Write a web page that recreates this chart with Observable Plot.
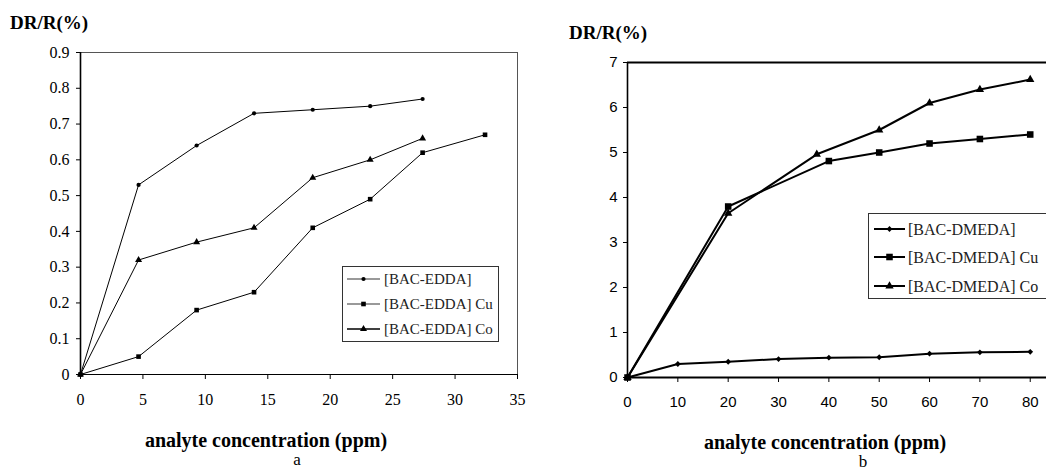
<!DOCTYPE html>
<html><head><meta charset="utf-8">
<script src="https://cdn.jsdelivr.net/npm/d3@7"></script>
<script src="https://cdn.jsdelivr.net/npm/@observablehq/plot@0.6"></script>
<style>
body{margin:0;background:#fff;}
#wrap{position:relative;width:1046px;height:470px;overflow:hidden;background:#fff;}
.abs{position:absolute;white-space:nowrap;line-height:1;color:#000;}
.serif{font-family:"Liberation Serif","Times New Roman",serif;}
.bold{font-weight:bold;}
</style></head><body><div id="wrap"></div>
<script>
// ---- Panel a data ----
const eddaX   = [0, 4.65, 9.3, 13.9, 18.6, 23.2, 27.4];
const edda    = [0, 0.53, 0.64, 0.73, 0.74, 0.75, 0.77];
const eddaCuX = [0, 4.65, 9.3, 13.9, 18.6, 23.2, 27.4, 32.4];
const eddaCu  = [0, 0.05, 0.18, 0.23, 0.41, 0.49, 0.62, 0.67];
const eddaCoX = [0, 4.65, 9.3, 13.9, 18.6, 23.2, 27.4];
const eddaCo  = [0, 0.32, 0.37, 0.41, 0.55, 0.60, 0.66];
const seriesA = ["[BAC-EDDA]", "[BAC-EDDA] Cu", "[BAC-EDDA] Co"];
const ticksAX = [0, 5, 10, 15, 20, 25, 30, 35];
const ticksAY = [0, 0.1, 0.2, 0.3, 0.4, 0.5, 0.6, 0.7, 0.8, 0.9];

// ---- Panel b data ----
const dmedaX   = [0, 10, 20, 30, 40, 50, 60, 70, 80];
const dmeda    = [0, 0.30, 0.35, 0.41, 0.44, 0.45, 0.53, 0.56, 0.57];
const dmedaCuX = [0, 20, 40, 50, 60, 70, 80];
const dmedaCu  = [0, 3.80, 4.81, 5.00, 5.20, 5.30, 5.40];
const dmedaCoX = [0, 20, 37.6, 50, 60, 70, 80];
const dmedaCo  = [0, 3.65, 4.96, 5.50, 6.10, 6.40, 6.62];
const seriesB = ["[BAC-DMEDA]", "[BAC-DMEDA] Cu", "[BAC-DMEDA] Co"];
const ticksBX = [0, 10, 20, 30, 40, 50, 60, 70, 80];
const ticksBY = [0, 1, 2, 3, 4, 5, 6, 7];

const SERIF = '"Liberation Serif","Times New Roman",serif';
const SANS = '"Liberation Sans",Arial,sans-serif';
const zip = (xs, ys) => xs.map((x, i) => ({x, y: ys[i]}));
const wrap = document.getElementById("wrap");

function place(el, left, top, family, size) {
  el.setAttribute("font-family", family);
  el.setAttribute("font-size", size);
  el.style.fontFamily = family;
  el.style.fontSize = size + "px";
  el.style.position = "absolute";
  el.style.left = left + "px";
  el.style.top = top + "px";
  el.style.background = "transparent";
  wrap.appendChild(el);
}
function text(str, cls, css) {
  const d = document.createElement("div");
  d.className = "abs " + cls;
  d.textContent = str;
  Object.assign(d.style, css);
  wrap.appendChild(d);
  return d;
}

// ---------- Panel a ----------
const aData = [zip(eddaX, edda), zip(eddaCuX, eddaCu), zip(eddaCoX, eddaCo)];
const aSym = ["circle", "square", "triangle"];
const aR = [2.1, 2.6, 2.6];
const plotA = Plot.plot({
  width: 530, height: 420,
  marginLeft: 80, marginRight: 13, marginTop: 52, marginBottom: 46,
  x: {domain: [0, 35]},
  y: {domain: [0, 0.9]},
  marks: [
    Plot.frame({stroke: "#555", strokeWidth: 1}),
    Plot.axisX({ticks: ticksAX, tickSize: 5, tickPadding: 14, label: null, fontSize: 16, fontFamily: SERIF, fill: "#000", stroke: "#000", tickFormat: d => String(d)}),
    Plot.axisY({ticks: ticksAY, tickSize: 4, tickPadding: 7, label: null, fontSize: 16, fontFamily: SERIF, fill: "#000", stroke: "#000", tickFormat: d => String(+d.toFixed(1))}),
    Plot.ruleX([0], {stroke: "#000", strokeWidth: 1.6}),
    Plot.ruleY([0], {stroke: "#000", strokeWidth: 1.2}),
    ...aData.map(d => Plot.line(d, {x: "x", y: "y", stroke: "#000", strokeWidth: 1})),
    ...aData.map((d, i) => Plot.dot(d, {x: "x", y: "y", symbol: () => aSym[i], r: aR[i], fill: "#000", stroke: "none"}))
  ]
});
place(plotA, 0, 0, SERIF, 16);

// ---------- Panel b ----------
const bData = [zip(dmedaX, dmeda), zip(dmedaCuX, dmedaCu), zip(dmedaCoX, dmedaCo)];
const bSym = ["diamond2", "square", "triangle"];
const bR = [2.6, 3.7, 3.1];
const plotB = Plot.plot({
  width: 540, height: 420,
  marginLeft: 87, marginRight: 10, marginTop: 62, marginBottom: 43,
  x: {domain: [0, 88]},
  y: {domain: [0, 7]},
  marks: [
    Plot.axisX({ticks: ticksBX, tickSize: 5, tickPadding: 14, label: null, fontSize: 15, fontFamily: SANS, fill: "#000", stroke: "#000", tickFormat: d => String(d)}),
    Plot.axisY({ticks: ticksBY, tickSize: 4, tickPadding: 6, label: null, fontSize: 15, fontFamily: SANS, fill: "#000", stroke: "#000", tickFormat: d => String(d)}),
    Plot.ruleY([7], {stroke: "#000", strokeWidth: 2.2}),
    Plot.ruleY([0], {stroke: "#000", strokeWidth: 2.2}),
    Plot.ruleX([0], {stroke: "#000", strokeWidth: 1.6}),
    ...bData.map(d => Plot.line(d, {x: "x", y: "y", stroke: "#000", strokeWidth: 2})),
    ...bData.map((d, i) => Plot.dot(d, {x: "x", y: "y", symbol: () => bSym[i], r: bR[i], fill: "#000", stroke: "none"}))
  ]
});
place(plotB, 540, 0, SANS, 15);

// ---------- Titles ----------
text("DR/R(%)", "serif bold", {left: "10px", top: "13px", fontSize: "19px"});
text("DR/R(%)", "serif bold", {left: "569px", top: "23px", fontSize: "19px"});
text("analyte concentration (ppm)", "serif bold", {left: "266px", top: "430px", fontSize: "20px", transform: "translateX(-50%)"});
text("analyte concentration (ppm)", "serif bold", {left: "825px", top: "432px", fontSize: "20px", transform: "translateX(-50%)"});
text("a", "serif", {left: "297px", top: "451px", fontSize: "17px", transform: "translateX(-50%)"});
text("b", "serif", {left: "863px", top: "453px", fontSize: "17px", transform: "translateX(-50%)"});

// ---------- Legends ----------
function legend(names, syms, rs, box, rowY, lineX0, lineX1, textX, lineW, lineColors, fs, border) {
  const b = document.createElement("div");
  Object.assign(b.style, {position: "absolute", left: box[0] + "px", top: box[1] + "px",
    width: box[2] + "px", height: box[3] + "px", border: border, boxSizing: "border-box", background: "#fff"});
  wrap.appendChild(b);
  const symType = {circle: d3.symbolCircle, square: d3.symbolSquare, triangle: d3.symbolTriangle, diamond2: d3.symbolDiamond2};
  const svg = d3.create("svg").attr("width", 1046).attr("height", 470)
    .style("position", "absolute").style("left", "0px").style("top", "0px").style("overflow", "visible");
  names.forEach((n, i) => {
    const y = rowY[i];
    svg.append("line").attr("x1", lineX0).attr("x2", lineX1).attr("y1", y).attr("y2", y)
      .attr("stroke", lineColors[i]).attr("stroke-width", lineW);
    svg.append("path").attr("d", d3.symbol(symType[syms[i]], Math.PI * rs[i] * rs[i])())
      .attr("transform", `translate(${(lineX0 + lineX1) / 2},${y})`).attr("fill", "#000");
    svg.append("text").attr("x", textX).attr("y", y).attr("dy", "0.35em")
      .attr("font-family", SERIF).attr("font-size", fs)
      .attr("fill", "#222").text(n);
  });
  wrap.appendChild(svg.node());
}
legend(seriesA, aSym, aR, [342, 266, 157, 76], [279, 304, 329], 347, 380, 384, 1.3, ["#777", "#777", "#000"], 15, "1px solid #333");
legend(seriesB, bSym, bR, [868, 213, 200, 86], [229, 257, 286], 874, 905, 908, 2, ["#000", "#000", "#000"], 16, "1.5px solid #333");
</script></body></html>
